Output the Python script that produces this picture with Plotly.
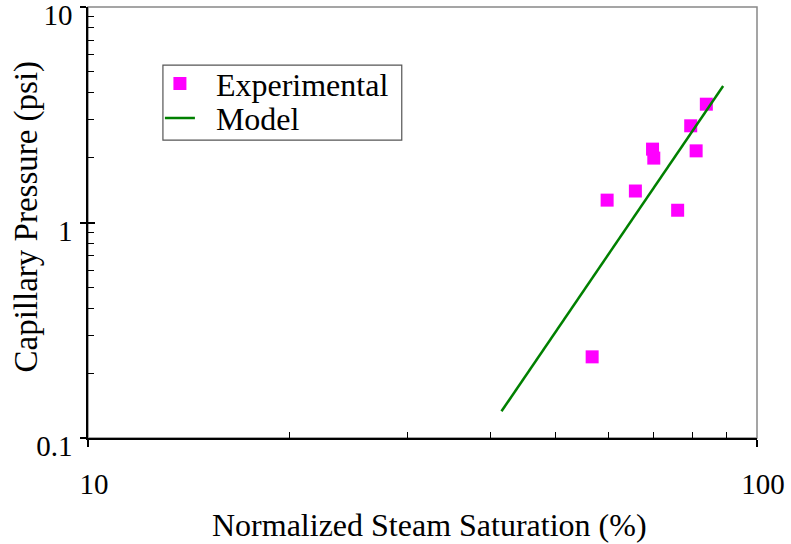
import plotly.graph_objects as go

# Experimental capillary pressure measurements
exp_saturation = [56.7, 59.7, 65.8, 69.8, 70.1, 76.1, 79.6, 81.1, 84.0]   # %
exp_pressure = [0.238, 1.27, 1.40, 2.19, 1.99, 1.14, 2.81, 2.15, 3.54]     # psi

# Model curve (straight line on log-log axes)
model_saturation = [41.5, 89.0]
model_pressure = [0.133, 4.30]

# Axis ranges and ticks
x_range = [10, 100]
y_range = [0.1, 10]
x_major = [10, 100]
x_major_text = ["10", "100"]
y_major = [0.1, 1, 10]
y_major_text = ["0.1", "1", "10"]
x_minor = [20, 30, 40, 50, 60, 70, 80, 90]
y_minor = [0.2, 0.3, 0.4, 0.5, 0.6, 0.7, 0.8, 0.9, 2, 3, 4, 5, 6, 7, 8, 9]

x_title = "Normalized Steam Saturation (%)"
y_title = "Capillary Pressure (psi)"

FONT = "Liberation Serif, Times New Roman, serif"
MAGENTA = "#ff00ff"
GREEN = "#008000"
GAP = "\u00a0\u00a0"  # extra room between legend symbol and label

fig = go.Figure()

fig.add_trace(go.Scatter(
    x=exp_saturation, y=exp_pressure, mode="markers", name=GAP + "Experimental",
    marker=dict(symbol="square", size=13, color=MAGENTA, line=dict(width=0)),
    legend="legend",
))
fig.add_trace(go.Scatter(
    x=model_saturation, y=model_pressure, mode="lines", name=GAP + "Model",
    line=dict(color=GREEN, width=2.5),
    legend="legend2",
))

log_x = [1, 2]
log_y = [-1, 1]

legend_style = dict(
    xanchor="left", yanchor="middle",
    bgcolor="rgba(0,0,0,0)", borderwidth=0,
    font=dict(family=FONT, size=32, color="black"),
    itemwidth=30,
)

fig.update_layout(
    width=791, height=544,
    margin=dict(l=88, r=34, t=7, b=106),
    paper_bgcolor="white", plot_bgcolor="white",
    font=dict(family=FONT, size=29, color="black"),
    showlegend=True,
    legend=dict(x=0.1075, y=0.822, **legend_style),
    legend2=dict(x=0.1075, y=0.742, **legend_style),
    xaxis=dict(
        type="log", range=log_x, showgrid=False, zeroline=False,
        automargin=False,
        showline=True, linecolor="black", linewidth=1.5,
        tickmode="array", tickvals=x_major, ticktext=x_major_text,
        ticks="outside", ticklen=7, tickcolor="black", tickwidth=1.5,
        ticklabelstandoff=12, ticklabelshift=6, ticklabeloverflow="allow",
        tickfont=dict(family=FONT, size=29),
        minor=dict(tickmode="array", tickvals=x_minor, ticks="inside",
                   ticklen=6, tickcolor="black", tickwidth=1, showgrid=False),
    ),
    yaxis=dict(
        type="log", range=log_y, showgrid=False, zeroline=False,
        automargin=False,
        showline=True, linecolor="black", linewidth=1.5,
        tickmode="array", tickvals=y_major, ticktext=y_major_text,
        ticks="outside", ticklen=6, tickcolor="black", tickwidth=1.5,
        ticklabelstandoff=2, ticklabelshift=8, ticklabeloverflow="allow",
        tickfont=dict(family=FONT, size=29),
        minor=dict(tickmode="array", tickvals=y_minor, ticks="inside",
                   ticklen=6, tickcolor="black", tickwidth=1, showgrid=False),
    ),
    # overlay axes carrying the inner halves of the major ticks
    xaxis2=dict(
        type="log", range=log_x, overlaying="x", side="bottom",
        anchor="y", showgrid=False, zeroline=False, showline=False,
        automargin=False,
        tickmode="array", tickvals=x_major, showticklabels=False,
        ticks="inside", ticklen=7, tickcolor="black", tickwidth=1.5,
    ),
    yaxis2=dict(
        type="log", range=log_y, overlaying="y", side="left",
        anchor="x", showgrid=False, zeroline=False, showline=False,
        automargin=False,
        tickmode="array", tickvals=y_major, showticklabels=False,
        ticks="inside", ticklen=7, tickcolor="black", tickwidth=1.5,
    ),
    annotations=[
        dict(text=x_title, xref="paper", yref="paper", x=0.511, y=-0.202,
             xanchor="center", yanchor="middle", showarrow=False,
             font=dict(family=FONT, size=32, color="black")),
        dict(text=y_title, xref="paper", yref="paper", x=-0.092, y=0.515,
             xanchor="center", yanchor="middle", textangle=-90, showarrow=False,
             font=dict(family=FONT, size=33, color="black")),
    ],
    shapes=[
        # plot frame (top and right edges in grey)
        dict(type="rect", xref="paper", yref="paper", x0=0, x1=1, y0=0, y1=1,
             line=dict(color="#888888", width=1.5), layer="below"),
        # legend frame
        dict(type="rect", xref="paper", yref="paper",
             x0=0.112, x1=0.469, y0=0.691, y1=0.865,
             line=dict(color="#555555", width=1.2), fillcolor="white",
             layer="below"),
    ],
)

# invisible trace so the overlay axes get drawn
fig.add_trace(go.Scatter(x=x_range, y=y_range, xaxis="x2", yaxis="y2",
                         mode="markers", marker=dict(opacity=0),
                         showlegend=False, hoverinfo="skip"))

fig.write_html("out.html")
